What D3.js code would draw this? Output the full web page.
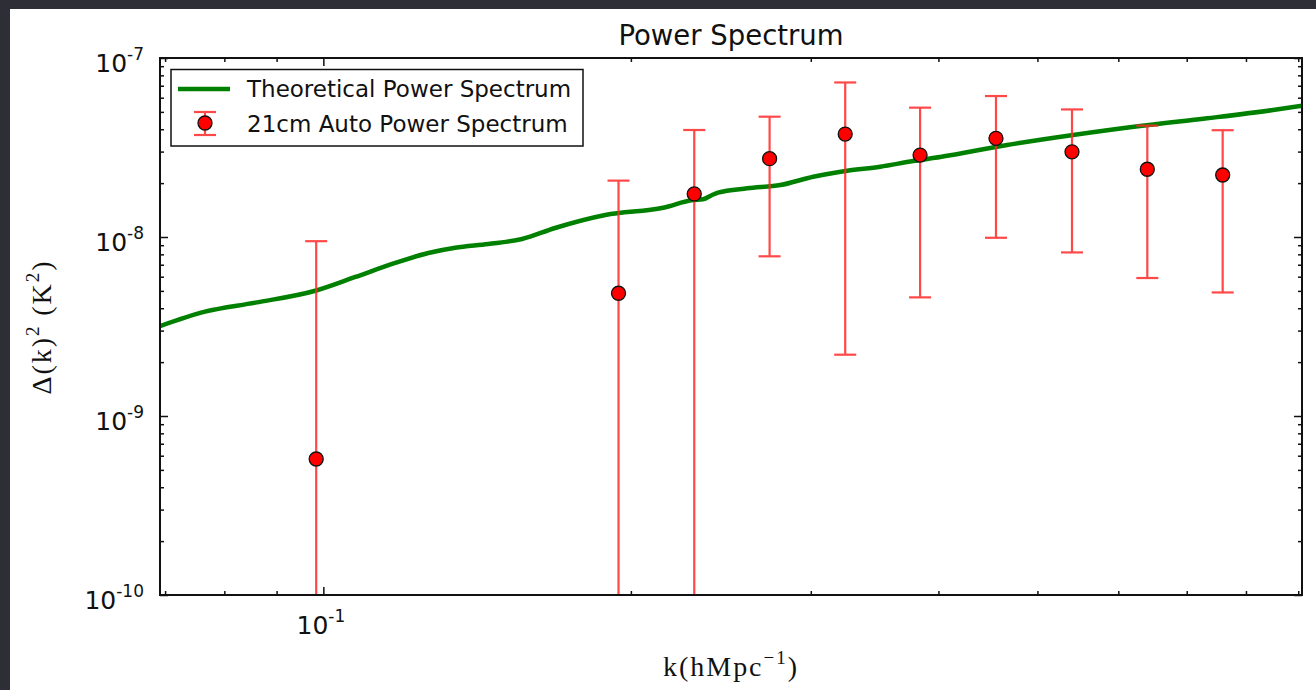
<!DOCTYPE html>
<meta charset="utf-8">
<html>
<head>
<style>
body { margin: 0; background: #2d2e36; }
svg { display: block; }
</style>
</head>
<body>
<svg width="1316" height="690"></svg>
<script src="https://d3js.org/d3.v7.min.js"></script>
<script>

// 21cm auto power spectrum (bins, values, 1-sigma errors)
var kBins = [0.0984, 0.1945, 0.2307, 0.2734, 0.3242, 0.3838, 0.4554, 0.5405, 0.6405, 0.7591];
var autoPower = [5.75e-10, 4.85e-9, 1.74e-8, 2.74e-8, 3.76e-8, 2.87e-8, 3.56e-8, 2.99e-8, 2.39e-8, 2.22e-8];
var autoErr = [8.9e-9, 1.58e-8, 2.22e-8, 1.96e-8, 3.54e-8, 2.41e-8, 2.57e-8, 2.17e-8, 1.8e-8, 1.73e-8];

// theoretical curve
var kTheory = [0.0692, 0.0766, 0.0858, 0.0982, 0.1075, 0.1176, 0.1267, 0.1346, 0.1450, 0.1565,
  0.1686, 0.1888, 0.2151, 0.2301, 0.2353, 0.2402, 0.2434, 0.2600, 0.2801, 0.3017,
  0.3256, 0.3508, 0.3778, 0.4016, 0.4670, 0.5418, 0.6300, 0.7328, 0.8503, 0.9077];
var pTheory = [3.18e-9, 3.83e-9, 4.30e-9, 5.01e-9, 5.98e-9, 7.16e-9, 8.14e-9, 8.71e-9, 9.14e-9, 9.75e-9,
  1.123e-8, 1.327e-8, 1.458e-8, 1.609e-8, 1.624e-8, 1.716e-8, 1.768e-8, 1.871e-8, 1.952e-8, 2.172e-8,
  2.346e-8, 2.470e-8, 2.658e-8, 2.798e-8, 3.266e-8, 3.714e-8, 4.170e-8, 4.604e-8, 5.123e-8, 5.414e-8];

var xMajor = [0.1];
var xMinor = [0.07, 0.08, 0.09, 0.2, 0.3, 0.4, 0.5, 0.6, 0.7, 0.8, 0.9];
var yMajor = [1e-10, 1e-9, 1e-8, 1e-7];
var xLabels = ["-1"];
var yLabels = ["-10", "-9", "-8", "-7"];

var svg = d3.select("svg");
var pLeft = 160, pRight = 1302, pTop = 58, pBottom = 595;

svg.append("rect").attr("width", 1316).attr("height", 690).attr("fill", "#2d2e36");
svg.append("rect").attr("x", 10).attr("y", 9).attr("width", 1306).attr("height", 681).attr("fill", "#fff");

var x = d3.scaleLog().domain([0.0692, 0.9077]).range([pLeft, pRight]);
var y = d3.scaleLog().domain([1e-10, 1e-7]).range([pBottom, pTop]);

var yMinor = [];
[-10, -9, -8].forEach(function(e) {
  for (var m = 2; m <= 9; m++) yMinor.push(m * Math.pow(10, e));
});

svg.append("defs").append("clipPath").attr("id", "clip")
  .append("rect").attr("x", pLeft).attr("y", pTop).attr("width", pRight - pLeft).attr("height", pBottom - pTop);

var plot = svg.append("g").attr("clip-path", "url(#clip)");

var theory = kTheory.map(function(k, i) { return [k, pTheory[i]]; });
plot.append("path")
  .datum(theory)
  .attr("fill", "none")
  .attr("stroke", "#008000")
  .attr("stroke-width", 4.5)
  .attr("d", d3.line()
    .x(function(d) { return x(d[0]); })
    .y(function(d) { return y(d[1]); })
    .curve(d3.curveMonotoneX));

var pts = kBins.map(function(k, i) {
  return { k: k, v: autoPower[i], lo: Math.max(autoPower[i] - autoErr[i], 1e-11), hi: autoPower[i] + autoErr[i] };
});

var eb = plot.append("g").attr("stroke", "#ff2a2a").attr("stroke-width", 2.2).attr("opacity", 0.85);
eb.selectAll(".bar").data(pts).enter().append("line")
  .attr("x1", function(d) { return x(d.k); }).attr("x2", function(d) { return x(d.k); })
  .attr("y1", function(d) { return y(d.lo); }).attr("y2", function(d) { return y(d.hi); });
eb.selectAll(".capHi").data(pts).enter().append("line")
  .attr("x1", function(d) { return x(d.k) - 11; }).attr("x2", function(d) { return x(d.k) + 11; })
  .attr("y1", function(d) { return y(d.hi); }).attr("y2", function(d) { return y(d.hi); });
eb.selectAll(".capLo").data(pts.filter(function(d) { return d.lo > 1e-10; })).enter().append("line")
  .attr("x1", function(d) { return x(d.k) - 11; }).attr("x2", function(d) { return x(d.k) + 11; })
  .attr("y1", function(d) { return y(d.lo); }).attr("y2", function(d) { return y(d.lo); });

plot.selectAll("circle").data(pts).enter().append("circle")
  .attr("cx", function(d) { return x(d.k); })
  .attr("cy", function(d) { return y(d.v); })
  .attr("r", 7)
  .attr("fill", "#ff0000")
  .attr("stroke", "#111")
  .attr("stroke-width", 1.3);

// axes, ticks pointing inward on all four sides
function axisGroup(axis, tx, ty) {
  var g = svg.append("g").attr("transform", "translate(" + tx + "," + ty + ")").call(axis);
  g.select(".domain").remove();
  g.selectAll(".tick line").attr("stroke", "#111").attr("stroke-width", 1.5);
  return g;
}
var noLabel = function() { return ""; };
axisGroup(d3.axisBottom(x).tickValues(xMinor).tickSize(-4).tickFormat(noLabel), 0, pBottom);
axisGroup(d3.axisTop(x).tickValues(xMinor).tickSize(-4).tickFormat(noLabel), 0, pTop);
axisGroup(d3.axisLeft(y).tickValues(yMinor).tickSize(-4).tickFormat(noLabel), pLeft, 0);
axisGroup(d3.axisRight(y).tickValues(yMinor).tickSize(-4).tickFormat(noLabel), pRight, 0);
var xAx = axisGroup(d3.axisBottom(x).tickValues(xMajor).tickSize(-8).tickFormat(noLabel), 0, pBottom);
axisGroup(d3.axisTop(x).tickValues(xMajor).tickSize(-8).tickFormat(noLabel), 0, pTop);
var yAx = axisGroup(d3.axisLeft(y).tickValues(yMajor).tickSize(-8).tickFormat(noLabel), pLeft, 0);
axisGroup(d3.axisRight(y).tickValues(yMajor).tickSize(-8).tickFormat(noLabel), pRight, 0);

svg.append("rect")
  .attr("x", pLeft).attr("y", pTop).attr("width", pRight - pLeft).attr("height", pBottom - pTop)
  .attr("fill", "none").attr("stroke", "#111").attr("stroke-width", 2);

var sans = "'DejaVu Sans', sans-serif";
var serif = "'Liberation Serif', 'DejaVu Serif', serif";

function powLabel(sel, exps) {
  sel.selectAll(".tick text").remove();
  var t = sel.selectAll(".tick").append("text")
    .attr("fill", "#111").attr("font-family", sans).attr("font-size", 25);
  t.append("tspan").text("10");
  t.append("tspan").attr("dy", -12).attr("font-size", 17).text(function(d, i) { return exps[i]; });
  return t;
}
powLabel(yAx, yLabels).attr("x", 144 - pLeft).attr("y", 13).attr("text-anchor", "end").attr("dy", null);
powLabel(xAx, xLabels).attr("y", 634 - pBottom).attr("x", -3).attr("text-anchor", "middle").attr("dy", null);

svg.append("text")
  .attr("x", 731).attr("y", 45)
  .attr("text-anchor", "middle")
  .attr("font-family", sans).attr("font-size", 27.5).attr("fill", "#111")
  .text("Power Spectrum");

var yl = svg.append("text")
  .attr("transform", "translate(51,328) rotate(-90)")
  .attr("text-anchor", "middle")
  .attr("textLength", 133).attr("lengthAdjust", "spacing")
  .attr("font-family", serif).attr("font-size", 28).attr("fill", "#111");
yl.append("tspan").text("\u0394(k)");
yl.append("tspan").attr("dy", -12).attr("font-size", 19).text("2");
yl.append("tspan").attr("dy", 12).text(" (K");
yl.append("tspan").attr("dy", -12).attr("font-size", 19).text("2");
yl.append("tspan").attr("dy", 12).text(")");

var xl = svg.append("text")
  .attr("x", 730).attr("y", 676)
  .attr("text-anchor", "middle")
  .attr("textLength", 134).attr("lengthAdjust", "spacing")
  .attr("font-family", serif).attr("font-size", 28).attr("fill", "#111");
xl.append("tspan").text("k(hMpc");
xl.append("tspan").attr("dy", -12).attr("font-size", 19).text("\u22121");
xl.append("tspan").attr("dy", 12).text(")");

// legend
var lg = svg.append("g");
lg.append("rect").attr("x", 171).attr("y", 69.5).attr("width", 412).attr("height", 76.5)
  .attr("fill", "#fff").attr("stroke", "#111").attr("stroke-width", 1.5);
lg.append("line").attr("x1", 178).attr("x2", 230).attr("y1", 89).attr("y2", 89)
  .attr("stroke", "#008000").attr("stroke-width", 4.5);
var lgEb = lg.append("g").attr("stroke", "#ff2a2a").attr("stroke-width", 2.2).attr("opacity", 0.85);
lgEb.append("line").attr("x1", 205).attr("x2", 205).attr("y1", 112).attr("y2", 135);
lgEb.append("line").attr("x1", 194).attr("x2", 216).attr("y1", 112).attr("y2", 112);
lgEb.append("line").attr("x1", 194).attr("x2", 216).attr("y1", 135).attr("y2", 135);
lg.append("circle").attr("cx", 205).attr("cy", 123).attr("r", 7)
  .attr("fill", "#ff0000").attr("stroke", "#111").attr("stroke-width", 1.3);
lg.append("text").attr("x", 247).attr("y", 97)
  .attr("font-family", sans).attr("font-size", 23).attr("fill", "#111")
  .text("Theoretical Power Spectrum");
lg.append("text").attr("x", 247).attr("y", 132)
  .attr("font-family", sans).attr("font-size", 23).attr("fill", "#111")
  .text("21cm Auto Power Spectrum");

</script>
</body>
</html>
